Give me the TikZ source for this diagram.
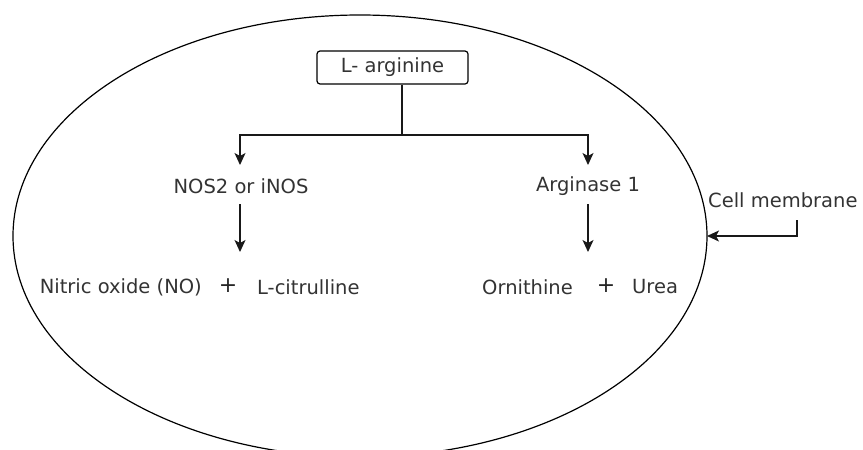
\documentclass[tikz,border=0pt]{standalone}
\usepackage{fontspec}
\setmainfont{DejaVu Sans}
\usetikzlibrary{arrows.meta}
\begin{document}
\begin{tikzpicture}[x=1pt,y=-1pt,
  lbl/.style={inner sep=0pt, text=black!80, font=\fontsize{19.5}{22}\selectfont},
  plus/.style={inner sep=0pt, text=black!85, font=\fontsize{22}{22}\selectfont},
  conn/.style={line width=1.2pt, draw=black!90},
  arr/.style={conn, -{Stealth[length=12pt,width=11pt,inset=3pt]}}]
\useasboundingbox (0,0) rectangle (863,450);
\begin{scope}
\clip (0,0) rectangle (863,450);
\draw[line width=1.2pt] (360,236) ellipse [x radius=347, y radius=221];
\end{scope}
\node[lbl, draw=black, rounded corners=3pt, line width=1.2pt, minimum width=151pt, minimum height=33pt] (arg) at (392.5,67.5) {L- arginine};
\coordinate (j) at (402,135);
\node[lbl] (nos) at (241,186) {NOS2 or iNOS};
\node[lbl] (ars) at (588,186) {Arginase 1};
\node[lbl, anchor=east] (no) at (202,287) {Nitric oxide (NO)};
\node[plus] (p1) at (228,286) {+};
\node[lbl, anchor=west] (cit) at (257,287) {L-citrulline};
\node[lbl, anchor=east] (orn) at (573,287) {Ornithine};
\node[plus] (p2) at (606,286) {+};
\node[lbl, anchor=west] (urea) at (632,287) {Urea};
\node[lbl, anchor=west] (cm) at (708,200) {Cell membrane};
\coordinate (cmA) at (797,220);
\coordinate (mem) at (707,236);
\coordinate (nosT) at (240,165);
\coordinate (arsT) at (588,165);
\coordinate (nosB) at (240,204);
\coordinate (arsB) at (588,204);
\coordinate (noT) at (240,252);
\coordinate (ornT) at (588,252);
\draw[conn] (arg.south -| j) -- (j);
\draw[arr] (j) -| (nosT);
\draw[arr] (j) -| (arsT);
\draw[arr] (nosB) -- (noT);
\draw[arr] (arsB) -- (ornT);
\draw[arr] (cmA) |- (mem);
\end{tikzpicture}
\end{document}
